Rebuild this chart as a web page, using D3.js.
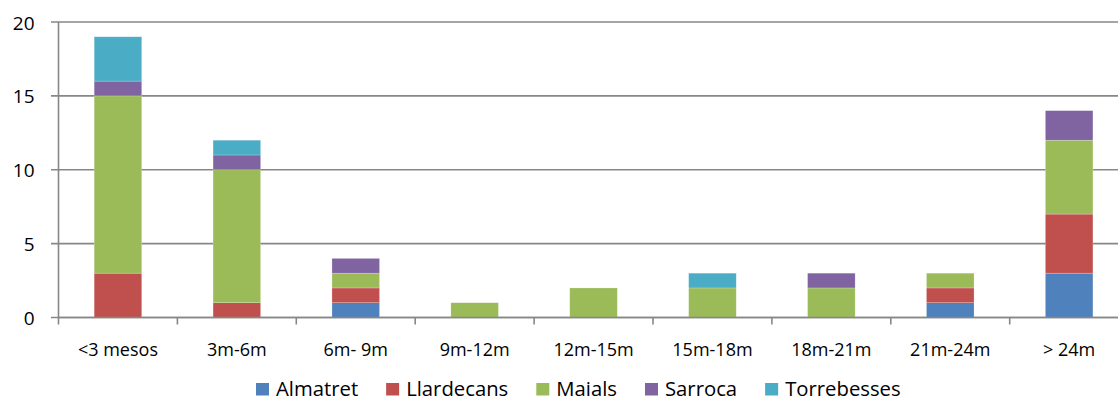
<!DOCTYPE html>
<html>
<head>
	<script src="https://d3js.org/d3.v7.min.js"></script>
	<style>
		body { margin: 0; background: #fff; font-family: "Open Sans", sans-serif; }
		svg { display: block; }
	</style>
</head>
<body>
	<div id="chart"></div>
	<script>
		// categories (time ranges) and series (towns)
		const categories = ["<3 mesos", "3m-6m", "6m- 9m", "9m-12m", "12m-15m", "15m-18m", "18m-21m", "21m-24m", "> 24m"];
		const seriesNames = ["Almatret", "Llardecans", "Maials", "Sarroca", "Torrebesses"];
		const almatret    = [0, 0, 1, 0, 0, 0, 0, 1, 3];
		const llardecans  = [3, 1, 1, 0, 0, 0, 0, 1, 4];
		const maials      = [12, 9, 1, 1, 2, 2, 2, 1, 5];
		const sarroca     = [1, 1, 1, 0, 0, 0, 1, 0, 2];
		const torrebesses = [3, 1, 0, 0, 0, 1, 0, 0, 0];
		const yTicks = [0, 5, 10, 15, 20];
		const colors = ["#4F81BD", "#C0504D", "#9BBB59", "#8064A2", "#4BACC6"];

		const width = 1118, height = 401;
		const plotLeft = 58.5, plotTop = 22, plotBottom = 317.5;

		// table for d3.stack
		const seriesValues = [almatret, llardecans, maials, sarroca, torrebesses];
		const rows = categories.map((c, i) => {
			const r = { cat: c };
			seriesNames.forEach((s, j) => r[s] = seriesValues[j][i]);
			return r;
		});
		const stacked = d3.stack().keys(seriesNames)(rows);

		const svg = d3.select("#chart").append("svg")
			.attr("width", width)
			.attr("height", height);

		// x band: plot area runs past the right edge of the picture
		const x = d3.scaleBand()
			.domain(categories)
			.range([plotLeft, plotLeft + 9 * 118.9])
			.paddingInner(0.6)
			.paddingOuter(0.3);

		const y = d3.scaleLinear()
			.domain([0, 20])
			.range([plotBottom, plotTop]);

		// gridlines + y ticks
		const grid = svg.append("g");
		grid.selectAll("line")
			.data(yTicks)
			.enter().append("line")
			.attr("x1", plotLeft - 7.5)
			.attr("x2", width)
			.attr("y1", d => y(d))
			.attr("y2", d => y(d))
			.attr("stroke", "#878787")
			.attr("stroke-width", 1.6);

		grid.selectAll("text")
			.data(yTicks)
			.enter().append("text")
			.attr("x", 34.5)
			.attr("y", d => y(d) + 7.5)
			.attr("text-anchor", "end")
			.attr("font-size", 19)
			.attr("fill", "#000")
			.text(d => d);

		// bars
		svg.append("g")
			.selectAll("g")
			.data(stacked)
			.enter().append("g")
			.attr("fill", (d, i) => colors[i])
			.selectAll("rect")
			.data(d => d.filter(p => p[1] > p[0]))
			.enter().append("rect")
			.attr("x", d => x(d.data.cat))
			.attr("y", d => y(d[1]))
			.attr("width", x.bandwidth())
			.attr("height", d => y(d[0]) - y(d[1]))
			.attr("stroke", "rgba(255,255,255,0.35)")
			.attr("stroke-width", 0.6);

		// y axis line
		svg.append("line")
			.attr("x1", plotLeft).attr("x2", plotLeft)
			.attr("y1", plotTop).attr("y2", plotBottom + 7)
			.attr("stroke", "#878787")
			.attr("stroke-width", 1.6);

		// x axis line + category boundary ticks
		svg.append("line")
			.attr("x1", plotLeft).attr("x2", width)
			.attr("y1", plotBottom).attr("y2", plotBottom)
			.attr("stroke", "#878787")
			.attr("stroke-width", 1.6);

		const step = x.step();
		svg.append("g").selectAll("line")
			.data(d3.range(1, categories.length))
			.enter().append("line")
			.attr("x1", i => plotLeft + i * step)
			.attr("x2", i => plotLeft + i * step)
			.attr("y1", plotBottom)
			.attr("y2", plotBottom + 7)
			.attr("stroke", "#878787")
			.attr("stroke-width", 1.6);

		svg.append("g").selectAll("text")
			.data(categories)
			.enter().append("text")
			.attr("x", d => x(d) + x.bandwidth() / 2)
			.attr("y", 356)
			.attr("text-anchor", "middle")
			.attr("font-size", 18)
			.attr("fill", "#000")
			.text(d => d);

		// legend (kept a little above the bottom edge so nothing is clipped)
		const legendBase = 395.5;
		const legend = svg.append("g");
		let lx = 256;
		seriesNames.forEach((name, i) => {
			legend.append("rect")
				.attr("x", lx)
				.attr("y", legendBase - 12.5)
				.attr("width", 13)
				.attr("height", 12.5)
				.attr("fill", colors[i]);
			const t = legend.append("text")
				.attr("x", lx + 20)
				.attr("y", legendBase)
				.attr("font-size", 20.3)
				.attr("fill", "#000")
				.text(name);
			lx += 20 + t.node().getComputedTextLength() + 28;
		});
	</script>
</body>
</html>
